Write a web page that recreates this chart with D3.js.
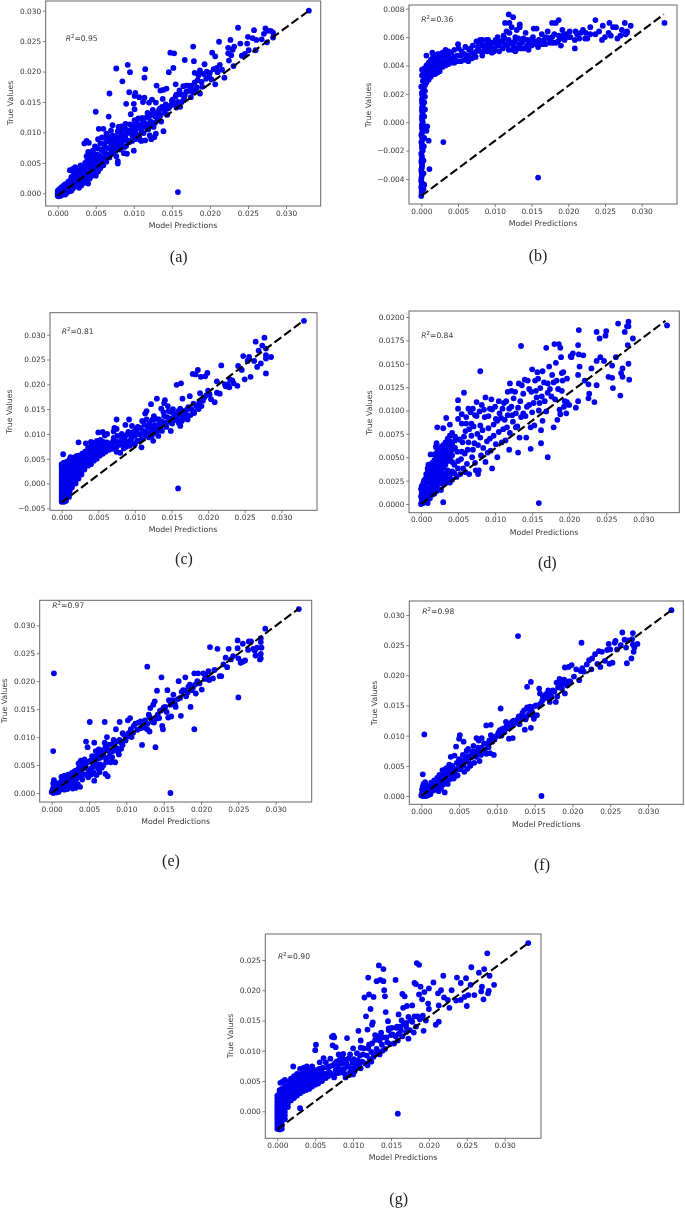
<!DOCTYPE html>
<html>
<head>
<meta charset="utf-8">
<script src="https://cdnjs.cloudflare.com/ajax/libs/d3/7.8.5/d3.min.js"></script>
<style>
  html, body { margin: 0; padding: 0; background: #fff; }
  svg { display: block; filter: blur(0.35px); }
</style>
</head>
<body>
<script>
// all values below are in units of 0.001, pairs are [prediction, true value]
var ticks30 = [0, 5, 10, 15, 20, 25, 30];
var ticksB = [-4, -2, 0, 2, 4, 6, 8];
var ticksC = [-5, 0, 5, 10, 15, 20, 25, 30];
var ticksD = [0, 2.5, 5, 7.5, 10, 12.5, 15, 17.5, 20];
var ticksG = [0, 5, 10, 15, 20, 25];

var pointsA = [
  [0,-0.4],[0,0],[0,0.4],[0.1,-0.5],[0.2,-0.3],[0.2,0.2],[0.2,0.7],[0.4,-0.4],[0.4,0.1],[0.4,0.6],[0.5,1],[0.7,-0.2],[0.7,0.3],[0.7,0.9],[0.8,1.3],
  [1,-0.2],[1,0.4],[1,1],[1,1.5],[1.2,0.1],[1.2,0.7],[1.3,1.3],[1.4,1.9],[1.5,0.3],[1.5,1],[1.6,1.6],[1.7,2.2],[1.8,0.4],[1.8,1.1],[1.8,2.7],[1.6,3.8],[1.9,1.9],
  [2,0.8],[2,1.5],[2.1,2.4],[2.1,3.2],[2,4],[2.2,1.1],[2.3,1.9],[2.3,2.8],[2.4,3.6],[2.3,4.3],[2.5,1.4],[2.6,2.3],[2.7,3.1],[2.8,0.9],[2.8,1.8],[2.9,2.7],[2.9,3.8],[3,4.6],
  [3.1,1.3],[3.2,2.2],[3.3,3.2],[3.4,1.7],[3.4,4.2],[3.5,2.7],[3.6,5],[3.6,3.6],[3.7,1.9],[3.8,6.1],[3.8,2.9],[3.9,4.4],[3.9,5.5],[4,1.6],[4,3.4],[4,6.8],[3.5,8.2],[3.8,8.6],[4.1,8.3],
  [4.2,2.4],[4.3,4],[4.4,5.2],[4.4,6.2],[4.5,3],[4.6,7],[4.7,4.6],[4.8,3.6],[4.9,5.7],[4.9,7.7],[5,2.9],[5.1,4.3],[5.2,6.4],[5.3,3.6],[5.3,8.9],[5.4,5.1],[5,13.4],[5.4,10.6],
  [5.6,4.1],[5.7,7.2],[5.8,5.8],[5.8,9.2],[6,10.6],[6,4.6],[6.1,8.1],[6.2,6.6],[6.4,5.2],[6.4,9.8],[6.6,7.4],[6.7,12.6],[6.8,5.9],[6.8,8.8],[6.8,16.4],[7,10.3],[7.1,6.8],[7.2,11.2],[7.3,8],
  [7.5,7.3],[7.6,9.4],[7.7,6.1],[7.7,20.5],[7.9,4.9],[7.9,5.3],[8,8.4],[8,10.9],[8.2,7.2],[8.3,9.9],[8.4,11],[8.5,18.4],[8.6,8.7],[8.7,6.6],[8.9,11.4],[8.9,9.2],[9,7.8],[9.1,6.5],[9.2,21.1],[9,14.7],
  [9.3,10.3],[9.4,16.6],[9.5,19.9],[9.5,8.6],[9.6,13],[9.7,11.2],[9.8,9.5],[10,7],[10,9],[10.1,16],[10,14.7],[10.1,12],[10.1,13.8],[10.2,10.3],[10.2,16.5],[10.4,11.6],[10.5,9.6],[10.7,15.8],[10.8,8.8],
  [10.9,10.6],[11,8.6],[11.1,12.4],[11.2,15],[11.3,9.9],[11.4,19],[11.5,20.4],[11.4,15.7],[11.5,8.7],[11.6,11.4],[11.8,13.2],[11.9,10.5],[12,14.9],[12.1,9.5],[12.2,11.8],[12.3,8.9],[12.4,15.4],[12.5,13.7],
  [12.6,10.9],[12.7,9.2],[12.8,12.6],[12.9,14.9],[12.9,9.8],[13,17.7],[13.1,12],[13.3,13.6],[13.5,16.9],[13.6,11.8],[13.8,15.5],[13.9,10.2],[13.9,17],[14.1,13.7],[14.3,17.2],[14.4,12.9],[14.6,14],[14.6,19.9],[14.8,23.1],
  [15,14.6],[15.2,20.6],[15.3,23],[15.1,15.4],[15.5,15.9],[15.6,14.1],[15.5,17.9],[15.9,16.3],[16.1,14.2],[16.3,15],[16.5,17.6],[16.7,16.1],[16.7,21.9],[16.9,17.7],[17.2,16.8],[17.5,15.8],[17.8,24.1],[17.9,21.7],
  [17.6,17.7],[18,19.8],[18.1,17],[18.4,18.6],[18.6,19.8],[18.7,16.4],[18.7,20.2],[19,17.5],[19.3,21.2],[19.5,18.8],[19.9,19.2],[20.3,23.1],[20.2,18.7],[20.7,22.5],[20.7,17.9],[20.9,20.6],[21.3,21.1],[21.6,20.3],[21.2,24.9],[21.9,19],
  [22.4,23.9],[22.4,23],[22.7,25.2],[22.8,22.7],[22.5,21.8],[23,23.6],[23.2,24.1],[23.1,20.9],[23.7,27.2],[24,24.6],[24.2,22.6],[24.6,22.9],[24.9,24.6],[25.1,23.5],[25,25.7],[25.6,25.5],[25.8,26.8],[26,23.5],[26.1,25.2],
  [26.8,25.3],[27.1,26.2],[27.3,27.1],[27.5,24.8],[27.6,26.7],[28,26.7],[28.3,25.6],[28.3,26.4],[33,30],
  [15.8,0.2],
  [3,3.5],[3.2,2.9],[3.5,4],[3.7,3.3],[3.8,4.8],[4.1,4.9],[4.3,3.5],[4.4,2.8],[4.6,5.8],[4.7,6.6],[4.8,4.3],[5,5],[5.1,3.4],[5.2,7.4],[5.3,5.7],[5.5,6.2],[5.6,8.2],[5.7,4.8],[5.9,7],[6,5.6],[6.1,9.1],[6.2,7.6],[6.3,6],[6.5,8.5],[6.6,6.4],[6.7,9.4],[6.9,7.3],[7,8.2],[7.2,9.5],[7.3,6.6],[7.4,8.8],[7.6,7.8],[7.8,8.6],[7.9,10.2],[8.1,7.7],[8.2,9.2],[8.4,8],[8.5,10.4],[8.7,9.6],[8.8,7.6],[8.9,10.6],[9.1,8.7],[9.2,9.9],[9.4,8.4],[9.5,11.3],[9.6,10.3],[9.8,8.6],[9.9,10.9],[10,9.9],[10.2,8.9],[10.3,11.8],[10.4,10.8],[10.6,12.3],[10.7,9.3],[10.9,11.2],[11,10],[11.2,11.8],[11.4,10.9],[11.6,12.4],[11.8,10.8],[12,11.2],[12,12.6],[12.3,12.9],[12.4,11.2],[12.6,13.1],[12.8,11.6],[13,13.2],[13.2,12.4],[13.4,13.9],[13.5,12.8],[13.7,14.2],[14,13.2],[14.2,14.6],[14.4,13.9],[14.8,14.4],[15,15.2],[15.3,14.8],[15.6,16.2],[15.8,15],[16,16.9],[16.3,16.2],[16.6,15.5],[16.9,16.7],[17.2,17.7],[17.5,17],[17.8,16.6],[18,18.2],[18.3,17.4],[18.5,19.4],[18.9,18.3],[19.2,19.6],[19.6,20],[20,19.8],[20.5,20.4],[21,19.9]
];
var lineA = [[0, -0.4], [33, 30]];

var pointsB = [
  [0,-5.2],[0.05,-4.9],[0,-4.6],[0.1,-4.3],[0,-4],[0.1,-3.7],[0,-3.4],[0.1,-3.1],[0,-2.8],[0.1,-2.5],[0,-2.2],[0.2,-2],[0.1,-1.7],[0,-1.4],[0.2,-1.2],[0,-0.9],[0.2,-0.6],[0.1,-0.3],[0.2,0],[0.1,0.3],[0.2,0.6],[0.1,0.9],[0.2,1.2],[0.1,1.5],[0.2,1.8],[0.1,2.1],[0.3,2.3],[0,2.5],
  [0.05,-5],[0.1,-4.75],[0.05,-4.45],[0,-4.15],[0.05,-3.85],[0.05,-3.55],[0.05,-3.25],[0.1,-2.95],[0.05,-2.65],[0.05,-2.35],[0.1,-1.85],[0.1,-1.55],[0.1,-1.05],[0.1,-0.75],[0.1,-0.45],[0.1,-0.15],[0.1,0.15],[0.1,0.45],[0.1,0.75],[0.1,1.05],[0.1,1.35],[0.1,1.65],[0.1,1.95],
  [0.3,-4.7],[0.4,-4.4],[0.3,-3.6],[0.3,-2.7],[0.35,-1.7],[0.4,-1.1],[0.4,-0.3],[0.8,-0.3],[0.7,-0.6],[0.4,0.4],[0.5,0.9],[0.4,1.4],[0.5,1.8],[0.5,2.2],[0.5,2.6],[0.2,2.9],[0.4,3.1],[0.1,3.3],[0.3,3.5],[0.1,3.7],[0.4,3.8],[0.7,2.8],[0.7,3.2],[0.7,3.5],[0.7,3.8],[0.7,4],[1,3],[1,3.3],[1,3.6],[1,3.9],[1,4.2],[1.3,3.2],[1.3,3.5],[1.3,3.8],[1.3,4.1],[1.3,4.4],
  [1,-1.3],[3,-1.4],[1.1,-3.3],[0.7,4.7],[1.5,4.9],[1.6,3.4],[1.6,3.7],[1.6,4],[1.6,4.3],[1.6,4.6],[1.9,3.4],[1.9,3.7],[1.9,4],[1.9,4.3],[1.9,4.6],[2.2,3.5],[2.2,3.8],[2.2,4.1],[2.2,4.4],[2.2,4.8],[2.5,3.6],[2.5,3.9],[2.5,4.2],[2.5,4.5],[2.5,4.8],
  [2.9,3.9],[2.9,4.2],[2.9,4.6],[2.9,4.9],[3.3,4],[3.3,4.3],[3.3,4.7],[3.3,5.1],[3.7,4.1],[3.7,4.4],[3.7,4.8],[3.7,5],[4.1,4.2],[4.1,4.5],[4.1,4.9],[4.5,4.2],[4.5,4.6],[4.5,5.1],[4.9,4.3],[4.9,4.7],[5,5.5],[5.1,5.2],[5.4,4.3],[5.4,4.7],[5.5,5],
  [5.9,4.4],[5.9,4.8],[6,5.3],[6.4,4.3],[6.4,4.7],[6.5,5.1],[6.9,4.5],[6.9,4.9],[7,5.4],[7.4,4.6],[7.5,5],[7.5,5.7],[7.8,5.3],[8,5.8],[8.1,5],[8.3,4.7],[8.4,5.4],[8.6,5.1],[9,5],[9,5.6],[9.1,5.8],[9.4,5.3],[9.6,4.9],[9.8,5.6],[10,5.2],[10.3,5.5],[10.4,6],[10.6,5],[10.8,5.7],
  [11.1,5.2],[11.2,6.1],[11.4,7],[11.4,5.5],[11.6,6.4],[11.9,5.1],[11.9,5.8],[11.9,7.6],[12,7],[12,6.3],[12.3,6.7],[12.5,7.4],[12.5,5.4],[12.8,5],[12.8,6],[13,6.5],[13.3,5.5],[13.4,6.9],[13.4,6.7],[13.6,5.2],[13.9,5.9],[14.2,6.3],[14.4,5.4],[14.6,5.1],[14.8,5.8],[15.3,6.6],[15.4,5.7],[15.7,6.6],[15.9,5.3],
  [16.2,5.5],[16.4,6.2],[16.7,5.8],[16.9,5.5],[17.2,6.4],[17.5,5.6],[17.8,7],[17.8,6],[18.3,7],[18.3,5.6],[18.7,7.2],[18.7,6.1],[19,5.4],[19.2,6.5],[19.5,5.8],[20,6],[20.2,6.4],[20.9,5.2],[20.9,5.8],[21.2,6.2],[21.5,5.9],[22,6.5],[22.4,6.3],[22.6,5.9],[23,6.7],[23,6.2],[23.7,7.2],[23.7,6.2],[24.2,6.4],[24.6,5.8],[24.7,6.8],[25,6],[25.5,6.3],[25.6,7],[25.8,6.1],[26.1,6.7],[26.5,6.7],[26.7,5.9],[27.1,6.1],[27.3,6.5],[27.7,7],[27.8,6.2],[28,6.4],[28,6.3],[28.5,6.8],[33.1,7],
  [15.9,-3.9],
  [10.1,5.8],[10.6,5.4],[11,5.7],[11.3,5.9],[11.7,5.4],[12.1,5.6],[12.4,5.1],[12.7,5.7],[13.1,5.2],[13.2,5.9],[13.7,5.6],[14,5.2],[14.3,5.8],[14.7,5.5],[15,5.4],[15.2,6],[15.6,5.5],[16,5.8],[16.6,5.5],[17,6],[17.4,5.9],[17.9,5.6],[18.1,6.2],[18.6,5.7],[18.9,5.9],[19.3,6.1],[19.7,6.2],[20.3,6],[21,6.4],[21.7,6.3],[22.3,5.9],
  [6.2,4.6],[6.7,5.2],[7.2,4.8],[7.7,5.3],[8.2,5.5],[8.5,5],[8.8,5.4],[9.2,5.2],[9.5,5.6],[9.9,5],[7.8,5.6],[8.3,5.8],[8.9,5.8]
];
var lineB = [[0, -5.2], [33, 7.6]];

var pointsC = [
  [0,-3.7],[0,-3.3],[0,-2.9],[0,-2.5],[0,-2.1],[0,-1.7],[0,-1.3],[0,-0.9],[0,-0.5],[0,-0.1],[0,0.3],[0,0.7],[0,1.1],[0,1.5],[0,1.9],[0,2.3],[0,2.7],[0,3.1],[0,3.5],[0,3.9],
  [0.3,-3.7],[0.3,-3.2],[0.3,-2.7],[0.3,-2.2],[0.3,-1.7],[0.3,-1.2],[0.3,-0.7],[0.3,-0.2],[0.3,0.3],[0.3,0.8],[0.3,1.3],[0.3,1.8],[0.3,2.3],[0.3,2.8],[0.3,3.3],[0.3,3.8],[0.3,4.2],[0.2,5.9],
  [0.6,-3.5],[0.6,-2.9],[0.6,-2.4],[0.7,-1.8],[0.7,-1.3],[0.6,-0.7],[0.7,-0.1],[0.7,0.4],[0.7,0.9],[0.7,1.4],[0.7,1.9],[0.7,2.4],[0.7,2.9],[0.7,3.4],[0.7,3.9],[0.7,4.4],
  [1,-2.7],[1,-2.1],[1.1,-1.5],[1,-1],[1,-0.4],[1.1,0.2],[1.1,0.7],[1.1,1.2],[1.1,1.8],[1.1,2.3],[1.1,2.8],[1.1,3.3],[1.1,3.8],[1.1,4.4],[1.1,4.9],
  [1.4,-0.8],[1.4,-0.2],[1.5,0.4],[1.5,1],[1.5,1.5],[1.5,2],[1.5,2.6],[1.5,3.1],[1.5,3.6],[1.5,4.2],[1.5,4.7],[1.2,5.3],[1.6,5.2],
  [1.9,0],[1.9,0.6],[1.9,1.2],[1.9,1.8],[1.9,2.3],[1.9,2.9],[1.9,3.4],[1.9,4],[1.9,4.5],[1.9,5],[2.3,8.3],[2,5.5],
  [2.3,1],[2.3,1.6],[2.3,2.2],[2.3,2.8],[2.3,3.3],[2.3,3.9],[2.3,4.4],[2.3,5],[2.3,5.6],
  [2.7,1.8],[2.7,2.4],[2.7,3],[2.7,3.6],[2.8,4.2],[2.8,4.8],[2.8,5.4],[2.8,6],[3.1,2.8],[3.1,3.4],[3.2,4],[3.2,4.6],[3.2,5.2],[3.2,5.8],[3.2,6.4],[3.3,8.1],
  [3.6,3.6],[3.6,4.2],[3.6,4.8],[3.6,5.4],[3.6,6],[3.6,6.6],[3.6,7.2],[4,3.9],[4,4.6],[4,5.2],[4,5.8],[4,6.4],[4,7],[4,7.6],[4,8.4],
  [4.4,4.6],[4.4,5.2],[4.4,5.8],[4.4,6.4],[4.4,7],[4.4,7.6],[4.4,8.2],[4.8,5],[4.8,5.6],[4.8,6.2],[4.8,6.8],[4.8,7.4],[4.8,8],[4.8,8.6],[5,10.3],[5.2,5.6],[5.2,6.2],[5.2,6.8],[5.2,7.4],[5.2,8],[5.3,8.8],
  [5.6,10.4],[5.6,6],[5.6,6.6],[5.6,7.2],[5.6,7.8],[5.7,8.4],[5.9,9.7],[6,6.4],[6,7],[6,7.6],[6.2,8.3],[6.2,10],[6.5,6.8],[6.5,7.4],[6.5,8],[7,7],[7,7.7],[7,8.5],[7.1,9.2],[7.1,10.5],[7.2,11.2],[7.5,6.4],[7.5,7.4],[7.6,8.4],[7.6,9.6],[7.5,11],[7.5,12.9],
  [8,7.8],[8,6.2],[8.2,8.8],[8.2,10],[8.5,7.1],[8.6,9],[8.7,11.8],[8.9,8.2],[9.1,10.4],[9.2,12.9],[9.3,7.6],[9.5,8.9],[9.6,11.6],[10,7.9],[10,9.6],[10.2,10.9],[10.4,11.4],[10.6,8.6],[10.8,9.8],[10.9,7.3],[11,12.6],[11.2,9.6],
  [11.4,10.4],[11.4,14.1],[11.6,14.6],[11.6,12.9],[11.9,9.3],[12,11.6],[12.2,10.3],[12.2,16],[12.4,12.9],[12.5,8.6],[12.6,13.6],[12.8,10.2],[13,11.1],[13,17.1],[13.2,9.6],[13.4,12.1],[13.6,15.1],[13.7,10.6],[14,13.6],[14,16.2],[14.1,16.8],[14.3,11.4],[14.5,15.6],[14.7,13.1],[14.9,10.6],[15,14.4],[15.1,12.1],[15.3,13.4],
  [15.7,19.9],[15.9,14.6],[16,12.2],[16.2,11.6],[16.2,15.1],[16.3,20.2],[16.5,13.6],[16.5,17.1],[16.8,13.1],[17.1,14.9],[17.2,12.9],[17.5,17.6],[17.6,13.8],[17.9,22.1],[18,16.1],[18,14.6],[18.3,22],[18.6,22.9],[18.7,15],[18.9,18.2],[19,21.5],[19.3,16.7],[19.6,21.6],[19.9,22.3],[19.8,17.8],[20,18.7],[20.4,17],[20.9,16.4],[21.2,20.6],[21.2,18.3],[21.6,18.1],[21.8,23.8],[22.4,19.6],[22.7,20],[23,21],[23.5,20.2],[24,19.7],[24.1,23.7],[24.6,22.9],[24.8,25.7],[25,21],[25.4,24.7],[25.6,25.5],[25.8,21.5],[26.3,24.7],[26.5,28.6],[26.7,23.5],[26.9,26.8],[27.2,24.2],[27.4,27.8],[27.7,29.4],[27.9,27.2],[27.9,25.2],[27.9,25.9],[27.9,22.2],[28.6,25.5],[33.1,32.8],
  [15.9,-1],
  [8.3,8],[8.4,9.4],[8.8,7.4],[8.9,9.8],[9.3,8.6],[9.4,9.9],[9.7,8],[9.8,10.4],[10.3,8.6],[10.5,10],[10.7,11.2],[11,9],[11.1,10.6],[11.3,11.8],[11.7,10],[11.8,11.2],[12,12.4],[12.3,9.6],[12.4,11],[12.7,11.8],[12.9,13],[13.1,10.7],[13.3,12.9],[13.5,11.4],[13.8,12.4],[13.9,14.4],[14.2,12.2],[14.4,13.4],[14.6,14.6],[14.8,12.4],[15.2,15],[15.5,12.8],[15.6,14],[15.8,13],[16.1,13.9],[16.4,12.6],[16.6,14.6],[17,13.9],[17.3,15.4],[17.7,15],[18.1,14.2],[18.4,15.6],[18.8,16.4],[19.1,15.6],[19.5,17.4],[20.2,18],[22.3,20],[22.9,19.4],[23.3,20.8]
];
var lineC = [[0, -3.8], [33, 32.8]];

var pointsD = [
  [0,0],[0.1,0.4],[0,0.8],[0.1,1.2],[0,1.6],[0.1,1.9],[0.3,0.1],[0.3,0.6],[0.4,1],[0.3,1.4],[0.3,1.8],[0.3,2.2],[0.4,2.5],[0.6,0.2],[0.6,0.7],[0.6,1.2],[0.6,1.7],[0.6,2.2],[0.6,2.7],[0.7,3.2],[0.9,0.1],[0.9,0.7],[0.9,1.2],[0.9,1.7],[0.9,2.3],[0.9,2.8],[0.9,3.4],[1,4.2],[0.9,3.8],
  [1.2,0.6],[1.2,1.2],[1.2,1.7],[1.2,2.3],[1.2,2.9],[1.2,3.5],[1.2,4.1],[1.3,5.3],[1.5,1],[1.5,1.5],[1.5,2.1],[1.5,2.7],[1.5,3.3],[1.5,3.9],[1.5,4.4],[1.8,1.1],[1.8,1.7],[1.8,2.3],[1.8,2.9],[1.8,3.5],[1.8,4.1],[1.8,4.7],[1.8,5.3],[2,6.1],[2.1,1.4],[2.1,2],[2.1,2.6],[2.1,3.2],[2.1,3.8],[2.1,4.4],[2.1,5],[2.2,8.2],[2.2,5.6],[2.1,6.5],
  [2.4,1.6],[2.4,2.2],[2.4,2.8],[2.4,3.4],[2.4,4],[2.4,4.6],[2.4,5.2],[2.4,5.8],[2.7,1.5],[2.7,2.5],[2.7,3.1],[2.7,3.7],[2.7,4.3],[2.7,4.9],[2.7,5.5],[2.7,6.1],[3,0.2],[3,2.1],[3,2.7],[3,3.3],[3,3.9],[3,4.5],[3,5.1],[3,5.7],[3,6.3],[3,8.1],[3.3,2.3],[3.3,3.2],[3.3,4.2],[3.3,4.8],[3.3,5.4],[3.3,6],[3.3,6.6],[3.4,9.2],
  [3.6,2.8],[3.6,3.6],[3.6,4.6],[3.6,5.2],[3.6,5.8],[3.6,6.4],[3.6,7],[3.9,2.3],[3.9,3.1],[3.9,4.9],[3.9,5.5],[3.9,6.1],[3.9,6.7],[3.9,7.3],[3.9,8.5],[4.2,2.6],[4.2,3.5],[4.2,4.5],[4.2,5.2],[4.2,5.8],[4.2,6.4],[4.2,7.6],[4.5,3.3],[4.5,4.2],[4.6,6],[4.6,6.8],[4.6,7.2],[4.9,5.6],[5,11.1],[5,10.2],[5,9.1],[5,3.8],[5.2,6.9],[5.4,4.8],[5.5,8.6],[5.5,9.6],[5.7,3.8],[5.8,11.9],[5.9,5.4],[6,7.8],[6.1,9.3],[6.2,4.3],[6.4,10.2],[6.4,6.6],[6.5,3.2],[6.8,8.6],[6.9,5],[7,10.2],[7.2,6.5],[7.3,9.5],[7.4,3.6],[7.5,10.9],[7.6,7.5],[7.7,3.2],[7.8,3.6],[8,7.1],[8,8.4],[8,14.2],[8.2,10.6],[8.4,6],[8.6,9.3],[8.7,4.5],[8.7,11.4],[9,5.5],[9.1,8.1],[9.3,7],[9.3,10.2],[9.5,11.2],[9.6,3.8],[9.8,8.5],[10,10.4],[10.1,6.4],[10.1,9.1],[10.3,5],[10.5,7.7],[10.5,11],[10.8,9.2],[11,10.2],[11.1,8],[11.4,6.8],[11.5,11],[11.7,9.5],[11.7,12],[11.9,5.8],[12,7.6],[12,12.9],[12.2,10.4],[12.4,8.8],[12.7,12],[12.8,9.7],[13.1,5.5],[13,8.3],[13.3,7.1],[13.4,11],[13.5,16.9],[13.6,12.7],[13.8,9.7],[14,13.3],[14.2,7.1],[14.3,10.4],[14.6,12.3],[14.8,8.2],[15,14.4],[14.8,5.9],[15.2,10.8],[15.4,13.2],[15.7,14.1],[15.9,10],[16.1,12.4],[16.2,7.9],[16.2,6.5],[16.4,8.9],[16.4,14.2],[16.7,11],[16.9,16.7],[17.1,5],[17.1,12.9],[17.3,14.7],[17.6,11.5],[17.9,13],[17.9,8.2],[18,17.1],[18.2,15.1],[18.4,9],[18.6,17.1],[18.7,10.1],[18.8,16.7],[18.9,15.7],[19,12.1],[19.2,14.1],[19.4,11],[19.6,9.7],[19.7,13.4],[20.2,15.8],[20,10.6],[20.5,16.1],[20.9,10.3],[21.2,17],[21.2,13.8],[21.3,18.6],[21.2,11],[21.4,14.7],[21.3,16],[21.9,15.9],[22.1,13.2],[22.6,11.3],[22.7,11.8],[22.6,12.8],[23,14.5],[23.4,10.9],[23.7,18.4],[23.7,15.3],[23.7,12.7],[24.1,17.7],[24.2,15.7],[24.7,15.3],[24.9,18],[25,18.5],[25.3,13.6],[25.8,13.5],[25.8,14.8],[25.9,12.4],[26.3,15.7],[26.6,19.3],[26.9,11.6],[27,14],[27.2,13.6],[27.2,14.5],[27.5,18.4],[27.8,19],[27.9,17],[28,19.5],[28,19],[28,15],[28.1,13.3],[28.6,17.7],[33.2,19.1],
  [15.9,0.1],
  [4.8,2.9],[5,4.6],[5.3,3.2],[5.5,5.6],[5.6,6.6],[5.8,7.2],[6,3.4],[6.1,8.6],[6.3,5.8],[6.5,8],[6.7,9.8],[6.8,7.3],[7,5.8],[7.1,8.3],[7.3,4.4],[7.5,9.4],[7.7,6.3],[7.9,9.9],[8.1,5.2],[8.3,7.9],[8.5,10.1],[8.9,6.7],[9.1,9.4],[9.4,5.7],[9.6,10.1],[9.8,7.3],[10.3,8.9],[10.6,9.7],[10.9,6.6],[11.2,10.8],[11.3,9],[11.6,8.2],[11.9,10.2],[12.2,12.1],[12.3,9.5],[12.5,11.3],[12.8,8.2],[13.1,10.3],[13.2,12.9],[13.5,9.3],[13.8,11.8],[14.1,9.4],[14.4,13.2],[14.6,10.6],[14.9,12],[15,9.8],[15.3,8.4],[15.5,12.1],[15.6,11.4],[15.8,13.4],[16,10.8],[16.3,11.5],[16.6,13],[16.9,9.9],[17.1,11.9],[17.4,12.3],[17.7,13.8],[18.1,11.2],[18.3,13.2],[18.5,12.3],[18.8,9.6],[19,14],[19.1,13.2],[19.3,10.4],[19.7,10.9],[20.3,15.7]
];
var lineD = [[0, 0], [33, 19.6]];

var pointsE = [
  [0,0.2],[0.1,0.5],[0.2,0],[0.2,0.9],[0.2,1.7],[0.3,2.3],[0.4,0.2],[0.4,0.7],[0.5,1.2],[0.6,0.1],[0.7,0.6],[0.7,1.7],[0.9,0.2],[1,1],[1,1.5],[1.1,0.6],[1.2,2],[1.3,0.8],[1.3,1.4],[1.3,2.9],[1.5,2],[1.6,1],[1.7,0.6],[1.7,1.6],[1.7,3.1],[1.9,2.4],[2,1.3],[2.1,0.7],[2.2,2],[2.2,3.3],[2.4,1.1],[2.5,2.7],[2.6,1.7],[2.7,3.6],[2.8,0.8],[2.9,2.2],[3,3.1],[3.1,1.4],[3.2,4],[3.3,2.5],[3.2,0.9],[3.4,3.4],[3.5,1.6],[3.6,4.4],[3.6,5.3],[3.7,2.9],[3.8,1.1],[3.9,5.8],[4,3.7],[4,4.8],[4.1,2.4],[4.3,5.5],[4.4,6],[4.5,3.3],[4.6,4.5],[4.6,9.2],[4.7,5.4],[4.8,8.2],[4.9,2.8],[5,4],[5.1,12.7],[5.2,5.8],[5.3,3.3],[5.4,6.6],[5.5,4.7],[5.6,3.7],[5.7,2.2],[5.8,5.4],[5.7,9],[5.9,7.5],[6,3.2],[6.1,6.1],[6.2,4.4],[6.3,7],[6.4,3.7],[6.5,5.1],[6.6,7.6],[6.9,4.9],[7,6.5],[7.1,12.7],[7.1,9],[7.2,3.4],[7.3,5.5],[7.4,10],[7.5,3],[7.5,7.7],[7.7,6.5],[7.9,5.5],[8,8.7],[8.2,7.5],[8.3,9.5],[8.5,5.5],[8.6,11.4],[8.8,8],[9,6.9],[9.1,9.5],[9.1,12.7],[9.3,7.9],[9.5,10.7],[9.9,9.4],[10.2,13],[10.3,10.7],[10.5,13.4],[10.7,10],[11,12],[11.5,11.3],[11.9,12.8],[12.1,8.6],[12.4,11.7],[12.8,12.4],[12.8,22.6],[13,14],[13.1,11],[13.2,15.2],[13.5,12.7],[13.6,15.8],[13.8,16.4],[13.9,8.2],[14,13.3],[14.1,18.3],[14.5,14.7],[14.7,20.7],[14.8,12],[14.9,11.4],[15,15.3],[15.5,18.4],[15.6,13.5],[15.7,16.6],[16,13.7],[16.3,17.6],[16.6,15.4],[17,20],[17.3,13.8],[17.4,18.1],[17.8,18.3],[17.9,20.7],[18,17.3],[18.3,19],[18.6,15.4],[18.7,18.4],[19.1,21.4],[19.1,11.4],[19.3,17.8],[19.5,20],[19.6,21.4],[20.1,18.5],[20.3,21.4],[20.5,20.4],[21,21.8],[21.2,26.1],[21.1,20.2],[21.6,20.5],[21.8,22],[22.2,25.8],[22.5,20.9],[22.7,20.9],[23,23],[23.3,24.2],[23.5,22.5],[23.7,25.8],[24,23.9],[24.3,24.5],[24.9,27.3],[24.9,25.9],[25,17.1],[25,24.1],[25.3,23.3],[25.6,23.5],[25.6,26.7],[25.9,23.7],[26.3,25.6],[26.4,27.1],[26.7,27.1],[27,25.8],[27.2,25.5],[27.3,24.6],[27.5,26],[27.9,23.9],[28,27],[28,27.7],[28,24.9],[28,24.1],[28.1,26],[28.6,29.4],[33.1,32.9],
  [0.3,21.4],[0.2,7.5],[15.9,0],
  [1.9,1.8],[2.4,2.5],[2.8,2.2],[3,3.8],[3.3,3.2],[3.7,3.9],[4,2.9],[4.2,4.4],[4.5,5.2],[4.9,3.6],[5,5.6],[5.3,4.4],[5.6,5.8],[5.9,6.6],[6.1,5],[6.3,7.8],[6.5,6.3],[6.7,4.5],[6.9,7.2],[7.2,8.2],[7.3,6.1],[7.6,8.6],[7.8,7.3],[8.1,6.4],[8.4,8.4],[8.7,9.2],[8.9,7.3],[9.3,9],[9.5,8.6],[9.7,10.4],[10,10],[10.4,10.2],[10.6,11.4],[10.9,10.8],[11.2,12.4],[11.6,12.6],[11.9,11.6],[12.2,12.3],[12.5,13],[12.8,11.4],[13.1,13.6],[13.4,13.2],[13.7,12.6],[14.2,14],[14.4,13.4],[14.7,14.8],[15.2,15.4],[15.4,14.5],[15.9,15.8],[16.2,16.6],[16.5,15.9],[16.9,16.8],[17.2,17],[17.6,18.4],[18.2,18],[18.5,19.4],[18.9,18.8],[19.2,19.4],[19.8,19.6],[20.6,21],[21,20.4]
];
var lineE = [[0, 0], [33.1, 33]];

var pointsF = [
  [0,0.1],[0.1,0.5],[0.1,1.1],[0.2,0],[0.2,1.6],[0.2,3.6],[0.3,0.3],[0.3,2],[0.4,0],[0.4,0.8],[0.5,1.3],[0.5,2.3],[0.6,0],[0.6,0.4],[0.7,1.7],[0.8,0.1],[0.9,0.9],[1,0.2],[1.1,1.1],[1.2,0.3],[1.3,2.2],[1.5,1.5],[1.6,0.9],[1.7,2.6],[1.9,1.2],[2,2.2],[2.1,3],[2.2,1.7],[2.3,0.8],[2.4,3.5],[2.5,2.4],[2.6,1.3],[2.7,3],[2.8,4.3],[2.9,1.9],[3,3.7],[3.1,0.6],[3.2,2.6],[3.3,4.6],[3.4,3.2],[3.5,2],[3.6,3.9],[3.7,5.2],[3.8,2.8],[3.9,4.4],[3.9,6.5],[4,3.4],[4.1,5],[4.3,2.9],[4.4,6.7],[4.5,4.1],[4.6,8.2],[4.7,5.5],[4.8,3.4],[5,6.1],[5.1,4.4],[5,9.5],[5.1,10.1],[5.3,5.2],[5.5,6.8],[5.6,9],[5.7,4],[5.8,5.7],[6,7.5],[6.1,4.5],[6.2,7.8],[6.3,6.2],[6.5,5],[6.7,7],[6.9,8.3],[7,5.5],[7.2,6.5],[7.3,9.6],[7.5,8],[7.6,9.2],[7.7,5.8],[7.9,6.8],[8,9.6],[8.1,7.6],[8.3,8.7],[8.6,7],[8.6,11.7],[8.9,8.1],[9.1,7.1],[9.2,11.8],[9.2,10.1],[9.4,9],[9.6,6.8],[9.9,9.9],[10.2,10.5],[10.5,14.5],[10.6,10],[10.7,11.1],[11,10.6],[11.2,12.3],[11.5,11.2],[11.6,9.5],[11.9,11.6],[12,12.3],[12.1,9.6],[12.5,12.1],[12.8,12.8],[12.8,26.5],[13,11.9],[13.2,12.9],[13.4,13.8],[13.7,11],[13.8,12.7],[14,14.7],[14,18.1],[14.2,13.5],[14.5,11.3],[14.5,18.9],[14.6,14.1],[14.9,12.8],[15,14.9],[15.3,13.4],[15.6,17.8],[15.7,17],[15.8,15.3],[16.1,16.5],[16.5,16.9],[16.8,17.5],[17,15.6],[17.2,16.5],[17.6,17.3],[17.8,15.6],[17.9,18.8],[18,16.5],[18.3,19.4],[18.6,17.8],[18.9,19.3],[19,21.3],[19,17],[19.3,18.3],[19.5,21.4],[19.7,19],[19.9,21.7],[20.2,19.8],[20.5,21],[20.9,19.2],[21.1,20.7],[21.2,25.4],[21.3,21.2],[21.5,20.6],[21.9,21.8],[22.2,22.5],[22.5,21],[22.6,22.8],[23,23.5],[23.3,21.9],[23.5,24],[23.7,21.4],[23.9,23.9],[24.3,22.4],[24.6,24.2],[24.8,25.2],[24.9,21.9],[25,24.3],[25.3,22.1],[25.6,25.4],[25.7,25.7],[25.9,24.3],[26.4,25],[26.6,27.1],[26.9,25.9],[27.1,24.6],[27.2,22],[27.4,25.8],[27.8,22.8],[27.9,26],[28,27],[28,25.1],[28.1,23.9],[28.2,24.6],[28.6,25.2],[33.1,30.8],
  [0.4,10.2],[15.9,0],
  [1,0.9],[1.2,1.6],[1.4,0.9],[1.8,1.8],[2.2,2.5],[2.5,1.7],[2.8,3.4],[3.1,2.4],[3.3,3.6],[3.6,2.8],[3.9,3.6],[4.2,4.4],[4.4,3.5],[4.7,4.5],[4.9,5.4],[5.2,4.6],[5.4,5.8],[5.6,5],[5.9,6.2],[6.1,6.6],[6.4,5.4],[6.6,6.4],[6.8,7.4],[7.1,7.3],[7.4,6.8],[7.7,7.6],[8,8],[8.4,7.5],[8.7,8.6],[9,9.2],[9.4,9.7],[9.7,9.4],[10.1,10],[10.4,10.9],[10.9,11.2],[11.3,11.6],[11.7,12],[12.2,12.5],[12.6,12.4],[12.9,13.2],[13.3,13.4],[13.6,14.2],[13.9,13.1],[14.2,14.4],[14.4,14.8],[14.7,13.4],[15.2,15],[15.5,15],[16,15.8],[16.3,16.2],[16.7,16.3],[17,17.2],[17.4,17.5],[18.1,18],[18.4,18.6],[18.8,18.6],[19.5,19]
];
var lineF = [[0, 0], [33.1, 30.8]];

var pointsG = [
  [0,-2.9],[0,-2.4],[0,-1.9],[0,-1.4],[0,-0.9],[0,-0.4],[0,0.1],[0,0.6],[0,1.1],[0,1.6],[0,2.1],[0,2.6],
  [0.3,-3],[0.3,-2.5],[0.3,-2],[0.3,-1.5],[0.3,-1],[0.3,-0.5],[0.3,0],[0.3,0.5],[0.3,1],[0.3,1.5],[0.3,2],[0.3,2.5],[0.3,3],[0.3,3.5],
  [0.6,-2.9],[0.6,-2.3],[0.6,-1.7],[0.6,-1.1],[0.6,-0.5],[0.6,0.1],[0.6,0.7],[0.6,1.3],[0.6,1.9],[0.6,2.5],[0.6,3.1],[0.6,3.7],[0.4,4.7],[0.7,4.9],
  [1,-1.3],[1,-0.7],[1,-0.1],[1,0.5],[1,1.1],[1,1.7],[1,2.3],[1,2.9],[1,3.5],[1,4.1],[1,5.2],[1.4,0.7],[1.4,1.3],[1.4,1.9],[1.4,2.5],[1.4,3.1],[1.4,3.7],[1.4,4.3],[1.4,4.9],[1.8,1.8],[1.8,2.4],[1.8,3],[1.8,3.6],[1.8,4.2],[1.8,4.8],[1.8,5.4],
  [2.1,7.4],[2.2,2.2],[2.2,2.8],[2.2,3.4],[2.2,4],[2.2,4.6],[2.2,5.2],[2.2,5.8],[2.6,2.6],[2.6,3.2],[2.6,3.8],[2.6,4.4],[2.6,5],[2.6,5.6],[2.6,6.2],[3,0.5],[3,3],[3,3.6],[3,4.2],[3,4.8],[3,5.4],[3,6],[3,7],[3.4,3.3],[3.4,3.9],[3.4,4.5],[3.4,5.1],[3.4,5.7],[3.4,6.3],[3.5,7.2],[3.8,3.5],[3.8,4.1],[3.8,4.7],[3.8,5.3],[3.8,5.9],[3.8,6.5],[3.9,7.4],
  [4.2,3.7],[4.2,4.3],[4.2,4.9],[4.2,5.5],[4.2,6.1],[4.2,6.8],[4.6,4.1],[4.6,4.7],[4.6,5.3],[4.6,5.9],[4.6,6.5],[4.6,7.4],[5,4.4],[5,5],[5,5.6],[5,6.2],[5,6.8],[5,10.1],[5.1,11],[5.4,4.6],[5.4,5.2],[5.4,5.8],[5.4,6.5],[5.5,7],[5.6,8.1],[5.9,5],[5.9,5.8],[5.9,6.4],[6,7.2],[6.1,8.8],[6.4,5.5],[6.4,6.2],[6.4,8.1],[6.8,6.5],[6.9,7.4],[7,8.7],[7.2,12.3],[7.4,12.5],[7.5,12.2],[7.3,6],[7.3,10.9],[7.7,6.8],[7.7,10.6],[7.8,8.2],[8.1,9.4],[8.3,6.4],[8.5,7.9],[8.8,7],[8.7,9.5],[9,5.6],[9,8.5],[9.2,12.1],[9.3,7.4],[9.6,6.5],[9.6,9.4],[9.9,8],[10,6.1],[10,10.4],[10.3,7.3],[10.6,8.4],[10.7,13.3],[11,7.1],[11,10.5],[11,11.7],[11.3,9.4],[11.5,18.8],[11.7,15.7],[11.9,13.5],[11.9,7.6],[12,22.1],[12.1,11],[12.1,19.3],[12.3,16.9],[12.4,8.2],[12.5,14.3],[12.6,14.7],[12.7,18.9],[12.7,9],[12.9,12.6],[13.1,10.3],[13.1,21.5],[13.4,24.1],[13.5,11.7],[13.6,21.7],[13.7,13],[13.9,10],[14,23.5],[14,21.5],[14.1,20],[14.2,19],[14.3,16.4],[14.4,12.2],[14.6,14.9],[14.7,13.7],[14.9,11.1],[15.2,12.7],[15.6,21.7],[15.8,14],[15.9,11.7],[16,16],[16.3,13.4],[16.4,15],[16.5,19.4],[16.6,17.1],[16.8,19],[17,14.6],[17,13.1],[17.1,17.4],[17.3,12],[17.6,15],[17.8,17.5],[18,13],[18.1,21.2],[18.3,21],[18.5,15.7],[18.4,24.5],[18.7,24.2],[18.7,19.3],[18.9,20.6],[19,15.5],[19.1,18.5],[19.3,13.3],[19.4,19.7],[19.6,15],[19.9,17.8],[20,20.3],[20,16.9],[20.6,21.3],[20.9,14.3],[21.2,19.5],[21.3,14.8],[21.3,17.5],[21.6,20],[21.9,22.4],[22,18.8],[22.5,18.4],[22.7,17.1],[23,20],[23.6,18.3],[23.7,22.1],[24.2,18.4],[24.2,21.2],[24.7,18.9],[24.9,22],[25,17.4],[25.2,19.2],[25.5,20.9],[25.6,23.8],[26,19.2],[26.6,22.9],[26.9,19.8],[27,20.6],[27.2,18.5],[27.3,23.5],[27.7,26.1],[27.8,19.5],[27.9,19.9],[28,22.4],[28.6,20.9],[33.1,27.8],
  [15.9,-0.4],
  [6.6,7.2],[6.7,5.8],[7,6.3],[7.3,7.6],[7.5,5.6],[7.6,7.9],[7.9,6.3],[8,7.4],[8.2,8.5],[8.4,6.9],[8.6,8.8],[8.9,6.2],[9.1,7.9],[9.4,8.7],[9.5,6],[9.8,7.1],[10.1,8.6],[10.2,6.6],[10.4,8],[10.5,9.6],[10.8,7.6],[10.9,9.2],[11.2,8.2],[11.4,10.4],[11.6,7.9],[11.8,9.2],[12,10.4],[12.2,8.6],[12.4,9.8],[12.5,11.2],[12.8,9.4],[12.9,11.8],[13.2,10],[13.3,12.4],[13.5,9.4],[13.8,11],[14,12.2],[14.2,10.3],[14.5,11.4],[14.7,13.4],[15,12.6],[15.1,13.8],[15.4,11.2],[15.6,12.4],[15.7,13.8],[16,12.8],[16.2,14],[16.5,12.4],[16.7,14.4],[17,14],[17.3,15.6],[17.5,13.4],[17.8,14.8],[18.1,15.7],[18.3,14],[18.8,15.2],[19.2,15.8]
];
var lineG = [[0, -3], [33.1, 27.8]];

// frame and tick anchors are read in page pixels
var panels = [
  {id:"a", r2:"0.95", pts:pointsA, line:lineA, yTicks:ticks30, fmt:".3f", box:[45.7,320.7,1,206], xa:[57.7,286], ya:[0,193.3,30,10.7], r2At:[65.7,40.7], yl:[10,103], xl:[183,225], cap:[178.7,262]},
  {id:"b", r2:"0.36", pts:pointsB, line:lineB, yTicks:ticksB, fmt:".3f", box:[409,677,5,204], xa:[421.3,641.7], ya:[-4,179,8,8.7], r2At:[421.3,22], yl:[368.3,105], xl:[543,223], cap:[538,261]},
  {id:"c", r2:"0.81", pts:pointsC, line:lineC, yTicks:ticksC, fmt:".3f", box:[50,317,312.7,510.3], xa:[61.7,281.3], ya:[-5,508.3,30,334.7], r2At:[61.7,334], yl:[9,411.7], xl:[183,529], cap:[184,564]},
  {id:"d", r2:"0.84", pts:pointsD, line:lineD, yTicks:ticksD, fmt:".4f", box:[409,679.3,311,512.7], xa:[421,643.3], ya:[0,504,20,317], r2At:[421.3,338.3], yl:[369,412.7], xl:[544,532], cap:[547.3,568]},
  {id:"e", r2:"0.97", pts:pointsE, line:lineE, yTicks:ticks30, fmt:".3f", box:[39.7,311.7,600.3,802], xa:[51.7,275.7], ya:[0,793,30,625.3], r2At:[52.3,607.7], yl:[4.5,701], xl:[175.7,821], cap:[171,866]},
  {id:"f", r2:"0.98", pts:pointsF, line:lineF, yTicks:ticks30, fmt:".3f", box:[409.3,683.3,601,804.3], xa:[421.3,648], ya:[0,796,30,615], r2At:[422.3,614], yl:[374.3,703], xl:[546.3,824], cap:[542,870]},
  {id:"g", r2:"0.90", pts:pointsG, line:lineG, yTicks:ticksG, fmt:".3f", box:[265.3,541,934,1138.3], xa:[277.3,504.7], ya:[0,1111.3,25,960], r2At:[278,959], yl:[230,1036], xl:[403,1157.7], cap:[398.7,1204]}
];

var tickFont = "DejaVu Sans";
var inkColor = "#3a3a3a";

var svg = d3.select("body").append("svg")
  .attr("width", 685)
  .attr("height", 1209);

panels.forEach(function(p) {
  var x = d3.scaleLinear().domain([0, 30]).range(p.xa);
  var y = d3.scaleLinear().domain([p.ya[0], p.ya[2]]).range([p.ya[1], p.ya[3]]);
  var g = svg.append("g").attr("class", "panel-" + p.id);

  g.selectAll("circle")
    .data(p.pts)
    .enter().append("circle")
      .attr("cx", function(d) { return x(d[0]); })
      .attr("cy", function(d) { return y(d[1]); })
      .attr("r", 2.9)
      .attr("fill", "#0000ee");

  g.append("line")
    .attr("x1", x(p.line[0][0])).attr("y1", y(p.line[0][1]))
    .attr("x2", x(p.line[1][0])).attr("y2", y(p.line[1][1]))
    .attr("stroke", "#000")
    .attr("stroke-width", 2.1)
    .attr("stroke-dasharray", "8.5,3.6");

  g.append("rect")
    .attr("x", p.box[0]).attr("y", p.box[2])
    .attr("width", p.box[1] - p.box[0]).attr("height", p.box[3] - p.box[2])
    .attr("fill", "none")
    .attr("stroke", "#666")
    .attr("stroke-width", 1);

  var xAxis = d3.axisBottom(x).tickValues(ticks30).tickSize(3)
    .tickFormat(function(d) { return d3.format(".3f")(d / 1000); });
  var yAxis = d3.axisLeft(y).tickValues(p.yTicks).tickSize(3)
    .tickFormat(function(d) { return d3.format(p.fmt)(d / 1000); });

  var gx = g.append("g").attr("transform", "translate(0," + p.box[3] + ")").call(xAxis);
  var gy = g.append("g").attr("transform", "translate(" + p.box[0] + ",0)").call(yAxis);
  [gx, gy].forEach(function(a) {
    a.select(".domain").remove();
    a.selectAll(".tick line").attr("stroke", "#555").attr("stroke-width", 0.7);
    a.selectAll(".tick text").attr("fill", inkColor).attr("font-family", tickFont).attr("font-size", "7.4px");
  });
  gx.selectAll(".tick text").attr("dy", "0.71em").attr("y", 4.5);
  gy.selectAll(".tick text").attr("x", -4.5);

  var r2 = g.append("text")
    .attr("x", p.r2At[0]).attr("y", p.r2At[1])
    .attr("font-family", tickFont).attr("font-size", "7.6px").attr("fill", inkColor);
  r2.append("tspan").attr("font-style", "italic").text("R");
  r2.append("tspan").attr("font-size", "5.4px").attr("dy", "-3").text("2");
  r2.append("tspan").attr("dy", "3").text("=" + p.r2);

  g.append("text")
    .attr("transform", "translate(" + p.yl[0] + "," + p.yl[1] + ") rotate(-90)")
    .attr("text-anchor", "middle").attr("dominant-baseline", "central")
    .attr("font-family", tickFont).attr("font-size", "7.8px").attr("fill", inkColor)
    .text("True Values");

  g.append("text")
    .attr("x", p.xl[0]).attr("y", p.xl[1])
    .attr("text-anchor", "middle").attr("dominant-baseline", "central")
    .attr("font-family", tickFont).attr("font-size", "7.8px").attr("fill", inkColor)
    .text("Model Predictions");

  g.append("text")
    .attr("x", p.cap[0]).attr("y", p.cap[1])
    .attr("text-anchor", "middle")
    .attr("font-family", "Liberation Serif").attr("font-size", "16px").attr("fill", "#222")
    .text("(" + p.id + ")");
});
</script>
</body>
</html>
